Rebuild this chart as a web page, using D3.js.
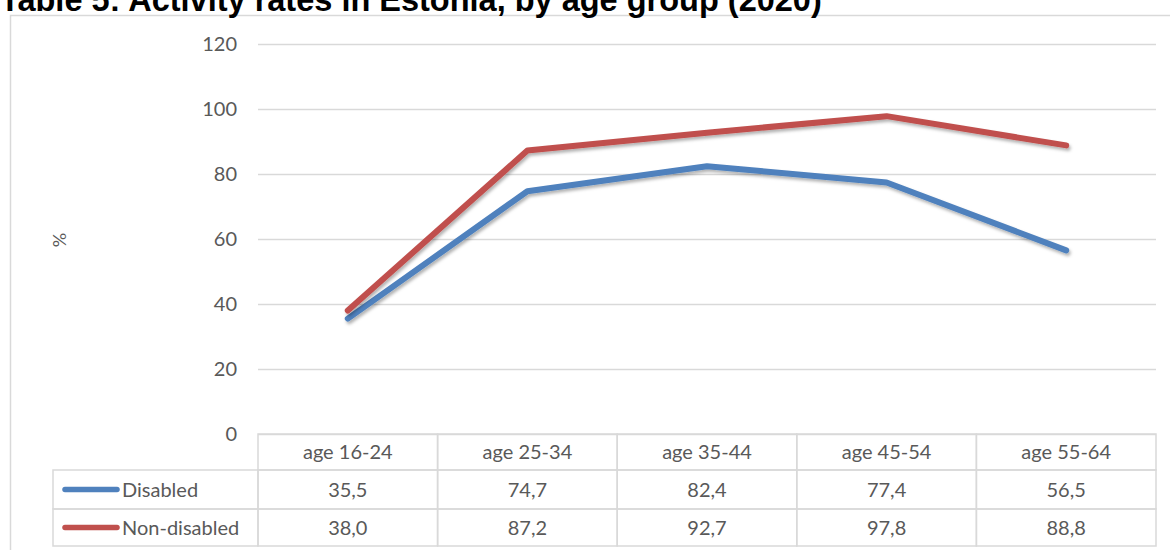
<!DOCTYPE html>
<html>
<head>
<meta charset="utf-8">
<script src="https://cdn.jsdelivr.net/npm/d3@7"></script>
<style>
    body {
        padding: 0;
        margin: 0;
        background: #fff;
    }
    svg text {
        font-family: Lato, "Open Sans", sans-serif;
        fill: #595959;
    }
</style>
</head>
<body>
<script>
const title = 'Table 5: Activity rates in Estonia, by age group (2020)';
const categories = ['age 16-24', 'age 25-34', 'age 35-44', 'age 45-54', 'age 55-64'];
const disabled = [35.5, 74.7, 82.4, 77.4, 56.5];
const nonDisabled = [38.0, 87.2, 92.7, 97.8, 88.8];
const yTicks = [0, 20, 40, 60, 80, 100, 120];

const series = [
    { name: 'Disabled', values: disabled, color: '#4f81bd' },
    { name: 'Non-disabled', values: nonDisabled, color: '#c0504d' }
];

const width = 1170;
const height = 550;

const svg = d3.create('svg')
    .attr('viewBox', [0, 0, width, height])
    .attr('width', width)
    .attr('height', height);

document.body.appendChild(svg.node());

// soft shadow under the lines, like the office chart
const filter = svg.append('defs').append('filter')
    .attr('id', 'shadow')
    .attr('x', '-10%').attr('y', '-10%')
    .attr('width', '120%').attr('height', '130%');
filter.append('feDropShadow')
    .attr('dx', 1.5).attr('dy', 2.5)
    .attr('stdDeviation', 1.5)
    .attr('flood-color', '#000')
    .attr('flood-opacity', 0.3);

// chart frame
svg.append('rect')
    .attr('x', 10.5).attr('y', 15.5)
    .attr('width', 1170).attr('height', 560)
    .attr('fill', 'none')
    .attr('stroke', '#d9d9d9')
    .attr('stroke-width', 1.5);

// title sits above the frame and is partly cut at the top of the page
svg.append('text')
    .attr('x', 0).attr('y', 10.5)
    .style('font-family', '"Liberation Sans", Arial, sans-serif')
    .style('font-weight', 'bold')
    .style('font-size', '32.5px')
    .style('fill', '#000')
    .text(title);

const x = d3.scaleBand()
    .domain(categories)
    .range([258, 1156]);

const y = d3.scaleLinear()
    .domain([0, 120])
    .range([434, 44]);

// gridlines + y labels
const yAxis = svg.append('g')
    .attr('transform', 'translate(258,0)')
    .call(d3.axisLeft(y).tickValues(yTicks).tickSize(-(1156 - 258)).tickPadding(21));
yAxis.select('.domain').remove();
yAxis.selectAll('.tick line').attr('stroke', '#d9d9d9').attr('stroke-width', 1.5);
yAxis.selectAll('.tick text')
    .style('font-size', '20px')
    .style('font-family', 'Lato, "Open Sans", sans-serif')
    .attr('fill', '#595959');

svg.append('text')
    .attr('transform', 'translate(66,240) rotate(-90)')
    .attr('text-anchor', 'middle')
    .style('font-size', '18px')
    .text('%');

// lines
const line = d3.line()
    .x((d, i) => x(categories[i]) + x.bandwidth() / 2)
    .y(d => y(d));

svg.selectAll('path.series')
    .data(series)
    .join('path')
        .classed('series', true)
        .attr('d', d => line(d.values))
        .attr('fill', 'none')
        .attr('stroke', d => d.color)
        .attr('stroke-width', 6)
        .attr('stroke-linecap', 'round')
        .attr('stroke-linejoin', 'round')
        .attr('filter', 'url(#shadow)');

// data table under the plot
const rowTop = [434, 470, 509];
const rowBottom = 546;
const legendLeft = 53;
const gridColor = '#d9d9d9';
const table = svg.append('g');

// header row
table.selectAll('rect.head')
    .data(categories)
    .join('rect')
        .classed('head', true)
        .attr('x', d => x(d))
        .attr('y', rowTop[0])
        .attr('width', x.bandwidth())
        .attr('height', rowTop[1] - rowTop[0])
        .attr('fill', 'none')
        .attr('stroke', gridColor)
        .attr('stroke-width', 1.5);

table.selectAll('text.head')
    .data(categories)
    .join('text')
        .classed('head', true)
        .attr('x', d => x(d) + x.bandwidth() / 2)
        .attr('y', (rowTop[0] + rowTop[1]) / 2)
        .attr('dy', '0.35em')
        .attr('text-anchor', 'middle')
        .style('font-size', '20px')
        .text(d => d);

const fmt = v => v.toFixed(1).replace('.', ',');

series.forEach((s, r) => {
    const top = rowTop[r + 1];
    const bottom = r + 2 < rowTop.length ? rowTop[r + 2] : rowBottom;
    const mid = (top + bottom) / 2;

    table.append('rect')
        .attr('x', legendLeft)
        .attr('y', top)
        .attr('width', 258 - legendLeft)
        .attr('height', bottom - top)
        .attr('fill', 'none')
        .attr('stroke', gridColor)
        .attr('stroke-width', 1.5);

    table.append('line')
        .attr('x1', 65).attr('x2', 117)
        .attr('y1', mid).attr('y2', mid)
        .attr('stroke', s.color)
        .attr('stroke-width', 5.5)
        .attr('stroke-linecap', 'round');

    table.append('text')
        .attr('x', 122)
        .attr('y', mid)
        .attr('dy', '0.35em')
        .style('font-size', '20px')
        .text(s.name);

    table.selectAll(null)
        .data(categories)
        .join('rect')
            .attr('x', d => x(d))
            .attr('y', top)
            .attr('width', x.bandwidth())
            .attr('height', bottom - top)
            .attr('fill', 'none')
            .attr('stroke', gridColor)
            .attr('stroke-width', 1.5);

    table.selectAll(null)
        .data(s.values)
        .join('text')
            .attr('x', (d, i) => x(categories[i]) + x.bandwidth() / 2)
            .attr('y', mid)
            .attr('dy', '0.35em')
            .attr('text-anchor', 'middle')
            .style('font-size', '20px')
            .text(d => fmt(d));
});
</script>
</body>
</html>
